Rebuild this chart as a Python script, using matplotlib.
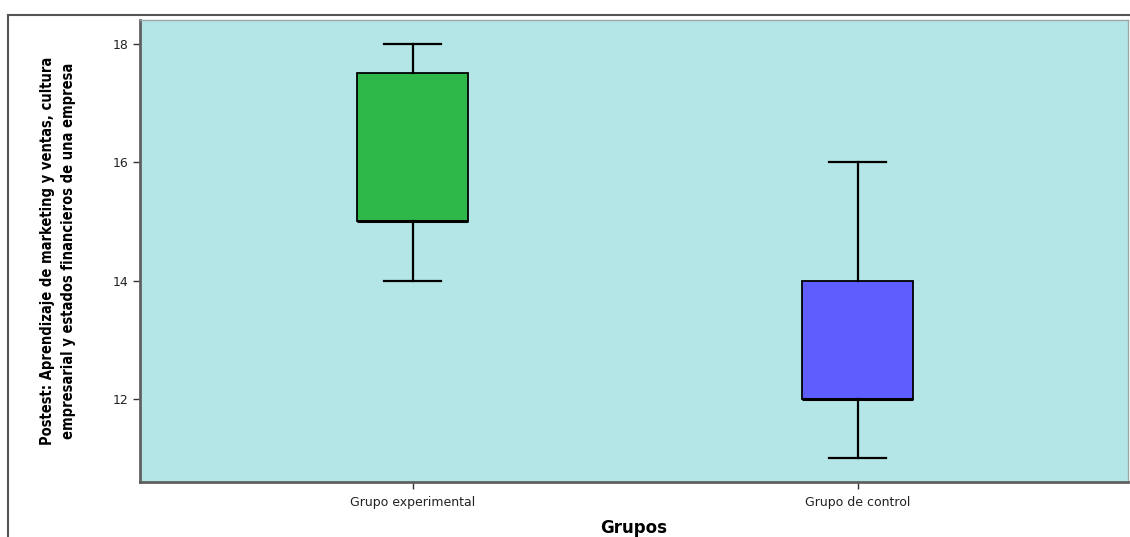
import matplotlib
matplotlib.use("Agg")
import matplotlib.pyplot as plt
from matplotlib.lines import Line2D

categories = ["Grupo experimental", "Grupo de control"]
whislo = [14, 11]
q1 = [15, 12]
med = [15, 12]
q3 = [17.5, 14]
whishi = [18, 16]
colors = ["#2EB84A", "#5E5EFF"]
yticks = [12, 14, 16, 18]

fig = plt.figure(figsize=(11.3, 5.37), dpi=100)
ax = fig.add_axes([140/1130, 1-482/537, 988/1130, 462/537])
ax.set_facecolor("#B5E6E7")

stats = []
for i, c in enumerate(categories):
    stats.append(dict(label=c, whislo=whislo[i], q1=q1[i], med=med[i], q3=q3[i], whishi=whishi[i], fliers=[]))
bp = ax.bxp(stats, positions=[1, 2], widths=0.25, patch_artist=True, showfliers=False,
            boxprops=dict(edgecolor="black", linewidth=1.3),
            medianprops=dict(color="black", linewidth=2.2),
            whiskerprops=dict(color="black", linewidth=1.6),
            capprops=dict(color="black", linewidth=1.6),
            capwidths=0.128)
for p, col in zip(bp["boxes"], colors):
    p.set_facecolor(col)

ax.set_xlim(0.387, 2.607)
ax.set_ylim(10.6, 18.4)
ax.set_yticks(yticks)
ax.set_yticklabels([str(t) for t in yticks], fontsize=9, color="#222222")
ax.set_xticks([1, 2])
ax.set_xticklabels(categories, fontsize=9, color="#222222")
ax.tick_params(axis="both", direction="out", length=5, width=1, color="#333333")
ax.tick_params(axis="x", pad=5)
for s in ["top", "right"]:
    ax.spines[s].set_color("#9aa8a8")
    ax.spines[s].set_linewidth(1)
ax.spines["left"].set_color("#606060")
ax.spines["left"].set_linewidth(2)
ax.spines["bottom"].set_color("#606060")
ax.spines["bottom"].set_linewidth(2)

ax.set_xlabel("Grupos", fontsize=12, fontweight="bold", labelpad=7)
ax.set_ylabel("Postest: Aprendizaje de marketing y ventas, cultura\nempresarial y estados financieros de una empresa",
              fontsize=10.5, fontweight="bold", family="DejaVu Sans", fontstretch="condensed",
              labelpad=26, linespacing=1.55)

# outer frame lines
fig.add_artist(Line2D([8/1130, 1], [1-15/537, 1-15/537], color="#555555", lw=1.5, transform=fig.transFigure))
fig.add_artist(Line2D([8/1130, 8/1130], [0, 1-15/537], color="#555555", lw=1.5, transform=fig.transFigure))

fig.savefig("out.png", dpi=100)
